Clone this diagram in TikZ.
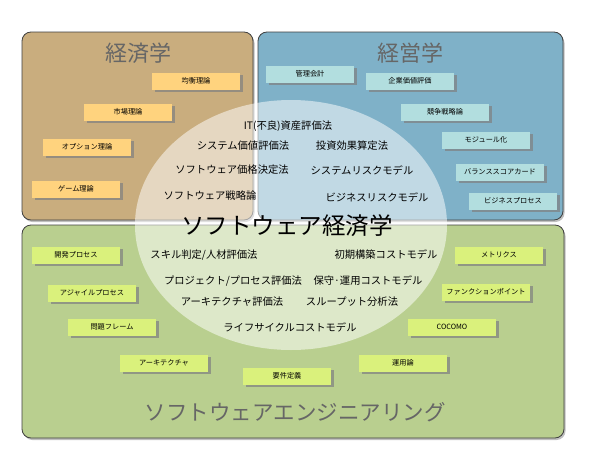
\documentclass[tikz,border=0pt]{standalone}
\usepackage{fontspec}
\setmainfont{Noto Sans CJK JP}
\usetikzlibrary{shadows}

\definecolor{econfill}{HTML}{C9AD7E}
\definecolor{mgmtfill}{HTML}{7FB1C8}
\definecolor{engfill}{HTML}{B9CF8F}
\definecolor{econtag}{HTML}{FFD37E}
\definecolor{mgmttag}{HTML}{B2DEDF}
\definecolor{engtag}{HTML}{DAF17C}

\tikzset{
	region/.style={draw=black!75, line width=0.8pt, rounded corners=9pt,
		drop shadow={shadow xshift=1.5pt, shadow yshift=-2pt, opacity=0.5}},
	regiontitle/.style={color=black!60, font=\fontsize{22}{24}\selectfont},
	tagbox/.style={minimum width=88pt, minimum height=17pt, inner sep=0pt,
		font=\fontsize{7.2}{8}\selectfont,
		drop shadow={shadow xshift=2.5pt, shadow yshift=-2.5pt, opacity=0.7}},
	method/.style={font=\fontsize{10.3}{12}\selectfont}
}

\begin{document}
\begin{tikzpicture}[x=1pt, y=-1pt]
	\useasboundingbox (0,0) rectangle (600,450);
	\fill[white] (0,0) rectangle (600,450);
	% three fields
	\draw[region, fill=econfill] (22,32) rectangle (253,220);
	\draw[region, fill=mgmtfill] (258,32) rectangle (563,220);
	\draw[region, fill=engfill] (22,225) rectangle (564,438);
	\node[regiontitle] (econ) at (138,53) {経済学};
	\node[regiontitle] (mgmt) at (410,53) {経営学};
	\node[regiontitle, font=\fontsize{21.5}{24}\selectfont] (eng) at (295,412) {ソフトウェアエンジニアリング};
	% overlap
	\fill[white, opacity=0.52] (291,225) ellipse [x radius=156, y radius=125];
	\node[font=\fontsize{23.5}{26}\selectfont] (swe) at (287,226) {ソフトウェア経済学};
	\begin{scope}[tagbox/.append style={fill=econtag}]
		\node[tagbox] (kinkou) at (196,81) {均衡理論};
		\node[tagbox] (shijou) at (128,112) {市場理論};
		\node[tagbox] (option) at (87,147) {オプション理論};
		\node[tagbox] (game) at (76,189) {ゲーム理論};
	\end{scope}
	\begin{scope}[tagbox/.append style={fill=mgmttag}]
		\node[tagbox] (kanri) at (310,74) {管理会計};
		\node[tagbox] (kigyou) at (410,81) {企業価値評価};
		\node[tagbox] (kyousou) at (445,112) {競争戦略論};
		\node[tagbox] (module) at (486,140) {モジュール化};
		\node[tagbox] (bsc) at (500,172) {バランススコアカード};
		\node[tagbox] (bproc) at (513,201) {ビジネスプロセス};
	\end{scope}
	\begin{scope}[tagbox/.append style={fill=engtag}]
		\node[tagbox] (kaihatsu) at (76,255) {開発プロセス};
		\node[tagbox] (agile) at (92,293) {アジャイルプロセス};
		\node[tagbox] (mondai) at (112,327) {問題フレーム};
		\node[tagbox] (arch) at (164,363) {アーキテクチャ};
		\node[tagbox] (youken) at (287,376) {要件定義};
		\node[tagbox] (metrics) at (499,255) {メトリクス};
		\node[tagbox] (fp) at (486,292) {ファンクションポイント};
		\node[tagbox] (cocomo) at (452,327) {COCOMO};
		\node[tagbox] (unyou) at (403,363) {運用論};
	\end{scope}
	% methods inside the ellipse
	\node[method] (itasset) at (288,126) {IT(不良)資産評価法};
	\node[method] (sysval) at (243,146) {システム価値評価法};
	\node[method] (invest) at (352,146) {投資効果算定法};
	\node[method] (price) at (232,170) {ソフトウェア価格決定法};
	\node[method] (sysrisk) at (362,170) {システムリスクモデル};
	\node[method] (strat) at (210,196) {ソフトウェア戦略論};
	\node[method] (bizrisk) at (377,197) {ビジネスリスクモデル};
	\node[method] (skill) at (204,255) {スキル判定/人材評価法};
	\node[method] (initcost) at (386,255) {初期構築コストモデル};
	\node[method] (projeval) at (233,281) {プロジェクト/プロセス評価法};
	\node[method] (maint) at (368,281) {保守·運用コストモデル};
	\node[method] (archeval) at (232,302) {アーキテクチャ評価法};
	\node[method] (thru) at (352,302) {スループット分析法};
	\node[method] (lifecycle) at (290,327) {ライフサイクルコストモデル};
\end{tikzpicture}
\end{document}
